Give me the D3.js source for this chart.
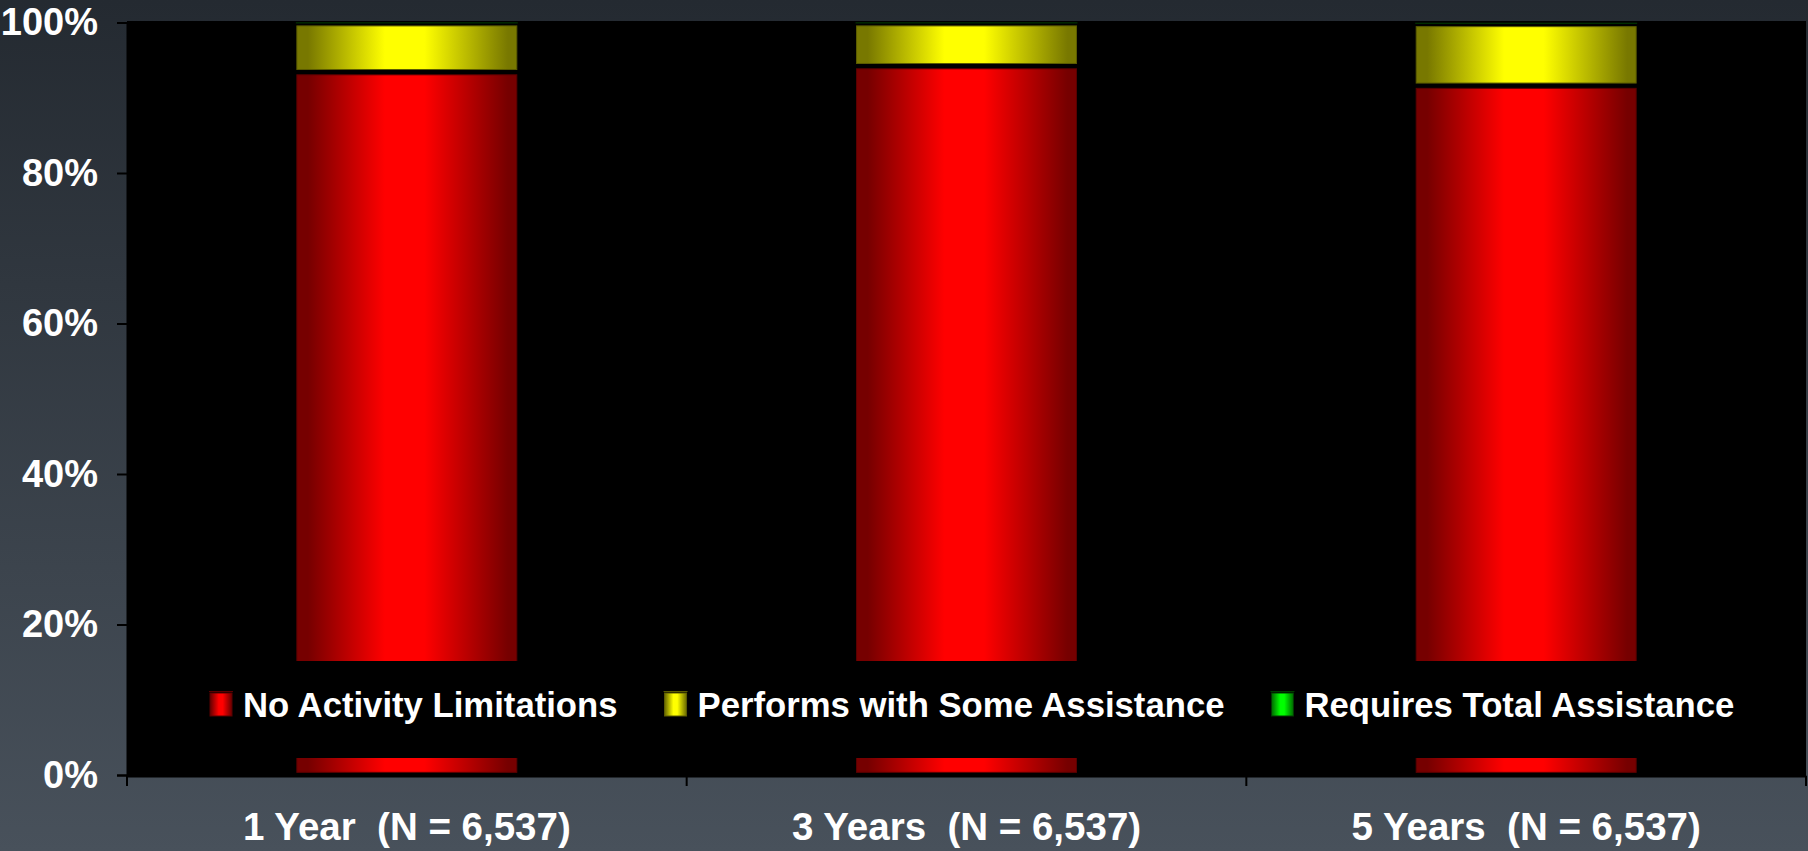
<!DOCTYPE html>
<html>
<head>
<meta charset="utf-8">
<script src="https://cdn.jsdelivr.net/npm/d3@7/dist/d3.min.js"></script>
<style>
  html, body { margin: 0; padding: 0; overflow: hidden; background: #2f363e; }
  svg { display: block; }
  text { font-family: "Liberation Sans", Arial, sans-serif; font-weight: bold; fill: #ffffff; }
</style>
</head>
<body>
<svg id="chart" width="1808" height="851"></svg>
<script>
// Follow-up periods shown on the x axis
const categories = ["1 Year  (N = 6,537)", "3 Years  (N = 6,537)", "5 Years  (N = 6,537)"];
// Functional status series (percent of patients)
const seriesNames = ["No Activity Limitations", "Performs with Some Assistance", "Requires Total Assistance"];
const noLimitations = [93.4, 94.2, 91.6];
const someAssistance = [6.5, 5.7, 8.2];
const totalAssistance = [0.1, 0.1, 0.2];
// Y axis tick labels
const yTicks = [0, 20, 40, 60, 80, 100];

const W = 1808, H = 851;
const plot = { left: 127, right: 1806, top: 21, bottom: 776 };
const svg = d3.select("#chart");
const defs = svg.append("defs");

// Page background: vertical slate gradient
const bg = defs.append("linearGradient").attr("id", "bg").attr("x1", 0).attr("y1", 0).attr("x2", 0).attr("y2", 1);
bg.append("stop").attr("offset", "0%").attr("stop-color", "#242a31");
bg.append("stop").attr("offset", "100%").attr("stop-color", "#48515b");
svg.append("rect").attr("width", W).attr("height", H).attr("fill", "url(#bg)");

// Cylinder-like horizontal gradients for each series
const palettes = [
  { id: "gRed", edge: "#760000", mid: "#ff0000", line: "#5a0000" },
  { id: "gYel", edge: "#787800", mid: "#ffff00", line: "#5c5c00" },
  { id: "gGrn", edge: "#007800", mid: "#00ff00", line: "#003c00" }
];
palettes.forEach(p => {
  const g = defs.append("linearGradient").attr("id", p.id).attr("x1", 0).attr("y1", 0).attr("x2", 1).attr("y2", 0);
  g.append("stop").attr("offset", "0%").attr("stop-color", p.edge);
  g.append("stop").attr("offset", "5%").attr("stop-color", p.edge);
  g.append("stop").attr("offset", "40%").attr("stop-color", p.mid);
  g.append("stop").attr("offset", "58%").attr("stop-color", p.mid);
  g.append("stop").attr("offset", "96%").attr("stop-color", p.edge);
  g.append("stop").attr("offset", "100%").attr("stop-color", p.edge);
});

// Plot area
svg.append("rect")
  .attr("x", plot.left).attr("y", plot.top)
  .attr("width", plot.right - plot.left).attr("height", plot.bottom - plot.top)
  .attr("fill", "#000");

const x = d3.scaleBand().domain(categories).range([plot.left, plot.right])
  .paddingInner(0.607).paddingOuter(0.3035);
const y = d3.scaleLinear().domain([0, 100]).range([775, 22.5]);

// Stack the three series
const rows = categories.map((c, i) => ({
  cat: c, s0: noLimitations[i], s1: someAssistance[i], s2: totalAssistance[i]
}));
const stacked = d3.stack().keys(["s0", "s1", "s2"])(rows);

const gap = 5.3;
stacked.forEach((layer, li) => {
  const p = palettes[li];
  const g = svg.append("g");
  layer.forEach(d => {
    const h = y(d[0]) - y(d[1]) - gap;
    if (h > 1) {
      g.append("rect")
        .attr("x", x(d.data.cat)).attr("width", x.bandwidth())
        .attr("y", y(d[1]) + gap / 2).attr("height", h)
        .attr("fill", `url(#${p.id})`)
        .attr("stroke", p.line).attr("stroke-width", 1);
    } else {
      // segment too thin to fill: only its outline shows
      g.append("line")
        .attr("x1", x(d.data.cat) - 1).attr("x2", x(d.data.cat) + x.bandwidth() + 1)
        .attr("y1", (y(d[1]) + y(d[0])) / 2).attr("y2", (y(d[1]) + y(d[0])) / 2)
        .attr("stroke", p.line).attr("stroke-width", 1);
    }
  });
});

// Y axis
const yAxis = svg.append("g").attr("transform", `translate(${plot.left},0)`)
  .call(d3.axisLeft(y).tickValues(yTicks).tickFormat(d => d + "%").tickSize(10).tickPadding(19));
yAxis.select(".domain").attr("stroke", "#000").attr("stroke-width", 2);
yAxis.selectAll(".tick line").attr("stroke", "#000").attr("stroke-width", 2);
yAxis.selectAll("text").attr("fill", "#fff").style("font-size", "38px")
  .style("font-family", "'Liberation Sans', Arial, sans-serif").style("font-weight", "bold");

// X axis: labels centred in bands, tick marks on band boundaries
const xAxis = svg.append("g").attr("transform", `translate(0,${plot.bottom})`)
  .call(d3.axisBottom(x).tickSize(0).tickPadding(37));
xAxis.select(".domain").attr("stroke", "#000").attr("stroke-width", 2);
xAxis.selectAll("text").attr("fill", "#fff").style("font-size", "38.5px")
  .style("white-space", "pre")
  .style("font-family", "'Liberation Sans', Arial, sans-serif").style("font-weight", "bold");
const bounds = categories.map(c => x(c) - x.step() * x.paddingInner() / 2);
bounds.push(plot.right);
bounds[0] = plot.left;
svg.append("g").selectAll("line").data(bounds).join("line")
  .attr("x1", d => d).attr("x2", d => d)
  .attr("y1", plot.bottom).attr("y2", plot.bottom + 10)
  .attr("stroke", "#000").attr("stroke-width", 2);

// Legend panel over the lower part of the bars
const legend = svg.append("g");
legend.append("rect").attr("x", 140).attr("y", 661).attr("width", 1650).attr("height", 97).attr("fill", "#000");
let lx = 210;
seriesNames.forEach((name, i) => {
  const p = palettes[i];
  const item = legend.append("g");
  item.append("line").attr("x1", lx - 1).attr("x2", lx + 23).attr("y1", 691.5).attr("y2", 691.5)
    .attr("stroke", p.line).attr("stroke-width", 1);
  item.append("rect").attr("x", lx).attr("y", 693).attr("width", 22).attr("height", 23)
    .attr("fill", `url(#${p.id})`).attr("stroke", p.line).attr("stroke-width", 1);
  const t = item.append("text").attr("x", lx + 33).attr("y", 717)
    .style("font-size", "34.7px").text(name);
  lx = lx + 33 + t.node().getComputedTextLength() + 47;
});
</script>
</body>
</html>
